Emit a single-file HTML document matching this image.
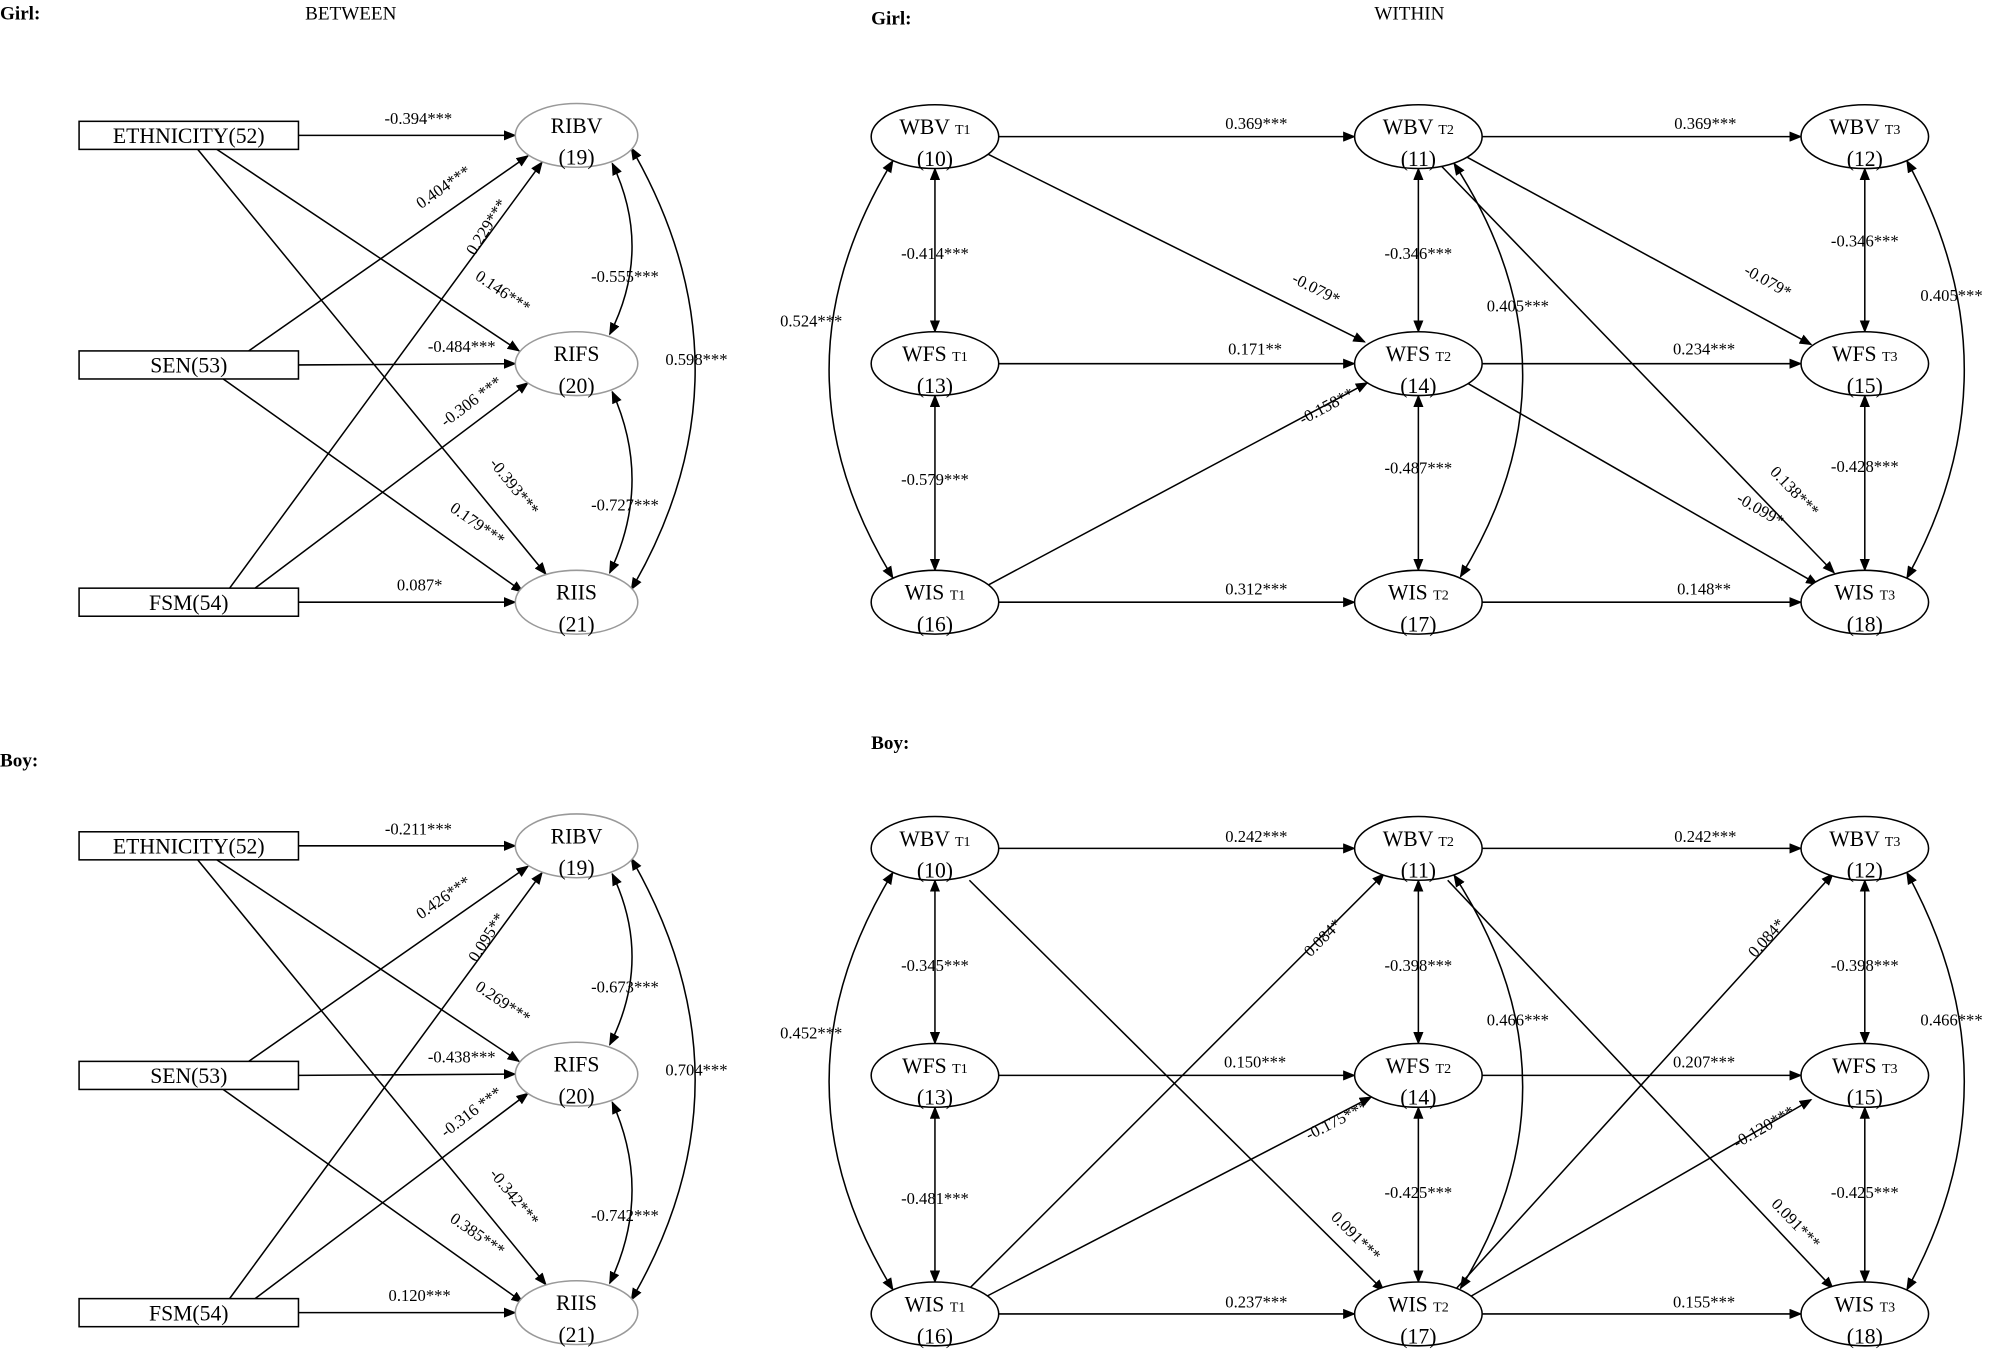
<!DOCTYPE html>
<html><head><meta charset="utf-8"><style>
html,body{margin:0;padding:0;background:#fff;}
svg{display:block;}
text{font-family:"Liberation Serif",serif;fill:#000;}
</style></head><body>
<svg id="s" width="2000" height="1360" viewBox="0 0 1568 1066" xmlns="http://www.w3.org/2000/svg">
<defs>
<marker id="ae" markerWidth="10" markerHeight="8" refX="9" refY="4" orient="auto" markerUnits="userSpaceOnUse"><path d="M0,0 L10,4 L0,8 z" fill="#000"/></marker>
<marker id="as" markerWidth="10" markerHeight="8" refX="1" refY="4" orient="auto" markerUnits="userSpaceOnUse"><path d="M10,0 L0,4 L10,8 z" fill="#000"/></marker>
</defs>
<g id="g"></g>
</svg>
<script>
var g=document.getElementById('g'),NS='http://www.w3.org/2000/svg';
function el(t,a,txt){var e=document.createElementNS(NS,t);for(var k in a)e.setAttribute(k,a[k]);if(txt!==undefined)e.textContent=txt;g.appendChild(e);return e;}
function ln(x1,y1,x2,y2){el('line',{x1:x1,y1:y1,x2:x2,y2:y2,stroke:'#000','stroke-width':1.2,'marker-end':'url(#ae)'});}
function cv(x1,y1,cx,cy,x2,y2){el('path',{d:'M'+x1+','+y1+' Q'+cx+','+cy+' '+x2+','+y2,fill:'none',stroke:'#000','stroke-width':1.2,'marker-end':'url(#ae)','marker-start':'url(#as)'});}
function lb(x,y,t,a){var o={x:x,y:y,'text-anchor':'middle','font-size':13};if(a)o.transform='rotate('+a+' '+x+' '+y+')';el('text',o,t);}
function box(y,t){el('rect',{x:62,y:y,width:172,height:22,fill:'#fff',stroke:'#000','stroke-width':1.2});el('text',{x:148,y:y+17,'text-anchor':'middle','font-size':17},t);}
function ov(cx,cy,n,num,gray){el('ellipse',{cx:cx,cy:cy,rx:gray?48:50,ry:25,fill:'#fff',stroke:gray?'#999':'#000','stroke-width':1.2});el('text',{x:cx,y:cy+23,'text-anchor':'middle','font-size':17},'('+num+')');
 var t=el('text',{x:cx,y:cy-2,'text-anchor':'middle','font-size':17});
 if(n.indexOf('_')>0){var p=n.split('_');t.textContent=p[0]+' ';var s=document.createElementNS(NS,'tspan');s.setAttribute('font-size','11');s.textContent=p[1];t.appendChild(s);}else t.textContent=n;}
function between(o,L){
 ln(234,106+o,404,106+o);ln(170,117+o,407,275+o);ln(155,117+o,428,450+o);
 ln(195,275+o,414,122+o);ln(234,286+o,404,285+o);ln(175,297+o,410,464+o);
 ln(180,461+o,425,127+o);ln(200,461+o,414,300+o);ln(234,472+o,404,472+o);
 cv(480,128+o,512,195+o,478,262+o);cv(480,307+o,512,378+o,478,449+o);cv(495,116+o,595,290+o,495,462+o);
 box(95+o,'ETHNICITY(52)');box(275+o,'SEN(53)');box(461+o,'FSM(54)');
 ov(452,106+o,'RIBV',19,1);ov(452,285+o,'RIFS',20,1);ov(452,472+o,'RIIS',21,1);
 lb(328,97+o,L[0]);lb(392,232+o,L[1],34);lb(400,384+o,L[2],51);lb(350,150+o,L[3],-35);lb(362,276+o,L[4]);
 lb(372,414+o,L[5],35);lb(385,180+o,L[6],-58);lb(372,318+o,L[7],-37);lb(329,463+o,L[8]);
 lb(490,221+o,L[9]);lb(490,400+o,L[10]);lb(546,286+o,L[11]);
}
function within(o){
 var X=[733,1112,1462],Y=[107,285,472];
 for(var r=0;r<3;r++){ln(783,Y[r]+o,1062,Y[r]+o);ln(1162,Y[r]+o,1412,Y[r]+o);}
 for(var c=0;c<3;c++){cv(X[c],132+o,X[c],196+o,X[c],260+o);cv(X[c],310+o,X[c],378+o,X[c],447+o);}
 cv(700,126+o,600,290+o,700,453+o);cv(1495,126+o,1585,290+o,1495,453+o);cv(1140,128+o,1245,290+o,1145,452+o);
}
function nodes(o){var X=[733,1112,1462],N=['WBV','WFS','WIS'],Y=[107,285,472];
 for(var r=0;r<3;r++)for(var c=0;c<3;c++)ov(X[c],Y[r]+o,N[r]+'_T'+(c+1),10+r*3+c);}
function T(x,y,t,b){el('text',{x:x,y:y,'font-size':15,'font-weight':b?'bold':'normal','text-anchor':b?'start':'middle'},t);}
T(0,15,'Girl:',1);T(275,15,'BETWEEN');T(683,19,'Girl:',1);T(1105,15,'WITHIN');
T(0,601,'Boy:',1);T(683,587,'Boy:',1);
between(0,['-0.394***','0.146***','-0.393***','0.404***','-0.484***','0.179***','0.229***','-0.306 ***','0.087*','-0.555***','-0.727***','0.598***']);
between(557,['-0.211***','0.269***','-0.342***','0.426***','-0.438***','0.385***','0.095**','-0.316 ***','0.120***','-0.673***','-0.742***','0.704***']);
// girl within
within(0);
ln(775,121,1070,268);ln(772,460,1072,300);ln(1150,123,1420,270);ln(1150,300,1425,458);ln(1130,130,1438,449);
nodes(0);
lb(985,101,'0.369***');lb(1337,101,'0.369***');lb(984,278,'0.171**');lb(1336,278,'0.234***');lb(985,466,'0.312***');lb(1336,466,'0.148**');
lb(733,203,'-0.414***');lb(733,380,'-0.579***');lb(1112,203,'-0.346***');lb(1112,371,'-0.487***');lb(1462,193,'-0.346***');lb(1462,370,'-0.428***');
lb(636,256,'0.524***');lb(1530,236,'0.405***');lb(1190,244,'0.405***');
lb(1030,230,'-0.079*',27);lb(1042,322,'-0.158**',-28);lb(1384,224,'-0.079*',29);lb(1378,403,'-0.099*',30);lb(1404,388,'0.138***',46);
// boy within
var o=558;within(o);
ln(760,1010,1085,685);ln(760,690,1085,1012);ln(770,1018,1075,860);ln(1140,1012,1437,685);ln(1135,690,1437,1010);ln(1150,1018,1420,862);
nodes(o);
lb(985,660,'0.242***');lb(1337,660,'0.242***');lb(984,837,'0.150***');lb(1336,837,'0.207***');lb(985,1025,'0.237***');lb(1336,1025,'0.155***');
lb(733,761,'-0.345***');lb(733,944,'-0.481***');lb(1112,761,'-0.398***');lb(1112,939,'-0.425***');lb(1462,761,'-0.398***');lb(1462,939,'-0.425***');
lb(636,814,'0.452***');lb(1190,804,'0.466***');lb(1530,804,'0.466***');
lb(1040,738,'0.084*',-45);lb(1060,972,'0.091***',45);lb(1050,882,'-0.175***',-27);lb(1388,738,'0.084*',-48);lb(1405,962,'0.091***',46);lb(1385,887,'-0.120***',-30);
</script>
</body></html>
